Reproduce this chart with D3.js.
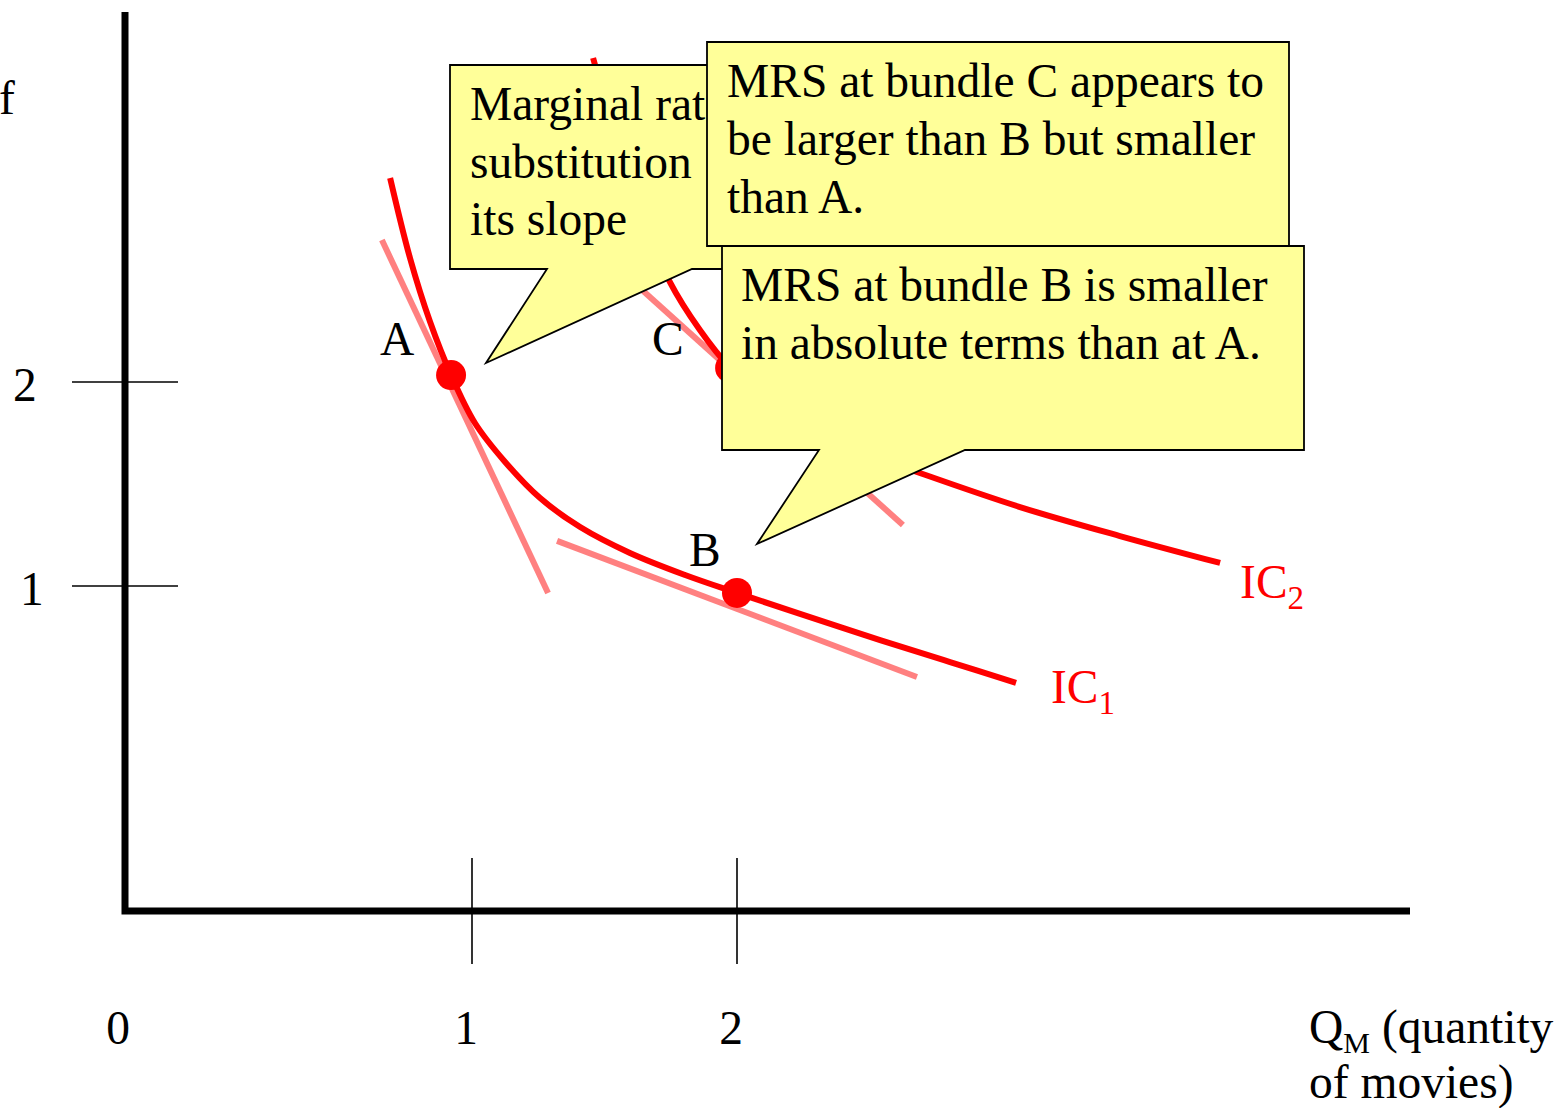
<!DOCTYPE html>
<html>
<head>
<meta charset="utf-8">
<script src="https://cdn.jsdelivr.net/npm/d3@7"></script>
<style>
  body { margin: 0; background: #fff; }
  svg { display: block; }
  text { font-family: "Liberation Serif", "Times New Roman", serif; }
</style>
</head>
<body>
<svg id="chart" width="1561" height="1108"></svg>
<script>
// ---- data -------------------------------------------------------------
const xTicks = [1, 2];
const yTicks = [1, 2];

// indifference curve IC1 (quantity of movies, quantity of the other good)
const ic1 = [
  [0.691, 3.000], [0.766, 2.608], [0.842, 2.294], [0.921, 2.034], [1.011, 1.799],
  [1.125, 1.608], [1.257, 1.431], [1.408, 1.289], [1.596, 1.162], [1.804, 1.054],
  [2.000, 0.966], [2.238, 0.863], [2.540, 0.735], [2.804, 0.627], [3.053, 0.525]
];
// indifference curve IC2
const ic2 = [
  [1.457, 3.588], [1.540, 3.211], [1.634, 2.843], [1.747, 2.490], [1.860, 2.255],
  [1.974, 2.069], [2.125, 1.887], [2.313, 1.740], [2.502, 1.642], [2.679, 1.559],
  [3.068, 1.387], [3.445, 1.245], [3.823, 1.113]
];

// consumption bundles
const bundleNames = ["A", "B", "C"];
const bundleX = [0.921, 2.000, 1.974];
const bundleY = [2.034, 0.966, 2.069];

// tangent segments (slope = MRS) at A, B and C
const tangentNames = ["A", "B", "C"];
const tangentFrom = [[0.660, 2.696], [1.321, 1.221], [1.483, 2.637]];
const tangentTo   = [[1.287, 0.966], [2.679, 0.554], [2.626, 1.299]];

// callout texts
const calloutSlope = ["Marginal rate of", "substitution", "its slope"];
const calloutC = ["MRS at bundle C appears to", "be larger than B but smaller", "than A."];
const calloutB = ["MRS at bundle B is smaller", "in absolute terms than at A."];

// ---- layout -----------------------------------------------------------
const svg = d3.select("#chart");
const origin = { x: 125, y: 911 };
const axisEnd = { x: 1410, y: 12 };

const x = d3.scaleLinear().domain([1, 2]).range([472, 737]);
const y = d3.scaleLinear().domain([1, 2]).range([586, 382]);

const FS = 47.5;
const RED = "#ff0000";
const PINK = "#ff8080";
const NOTE = "#ffff99";

// ---- tick marks & labels ------------------------------------------------
svg.append("g").selectAll("line").data(yTicks).join("line")
  .attr("x1", 72).attr("x2", 178)
  .attr("y1", d => y(d)).attr("y2", d => y(d))
  .attr("stroke", "#000").attr("stroke-width", 1.6);

const yLabelX = { 1: 20, 2: 13 };
svg.append("g").selectAll("text").data(yTicks).join("text")
  .attr("x", d => yLabelX[d]).attr("y", d => y(d) + 19)
  .attr("font-size", FS).text(d => d);

svg.append("g").selectAll("line").data(xTicks).join("line")
  .attr("x1", d => x(d)).attr("x2", d => x(d))
  .attr("y1", 858).attr("y2", 964)
  .attr("stroke", "#000").attr("stroke-width", 1.6);

svg.append("g").selectAll("text").data(xTicks).join("text")
  .attr("x", d => x(d) - 6).attr("y", 1044)
  .attr("text-anchor", "middle")
  .attr("font-size", FS).text(d => d);

svg.append("text").attr("x", 118).attr("y", 1044)
  .attr("text-anchor", "middle").attr("font-size", FS).text("0");

// ---- axes -------------------------------------------------------------
svg.append("path")
  .attr("d", `M${origin.x},${axisEnd.y} V${origin.y} H${axisEnd.x}`)
  .attr("fill", "none").attr("stroke", "#000")
  .attr("stroke-width", 7).attr("stroke-linejoin", "miter");

// axis titles
svg.append("text").attr("x", -1).attr("y", 114).attr("font-size", FS).text("f");

const xTitle = svg.append("text").attr("x", 1309).attr("y", 1043).attr("font-size", FS);
xTitle.append("tspan").text("Q");
xTitle.append("tspan").attr("font-size", 30).attr("dy", 10).text("M");
xTitle.append("tspan").attr("dy", -10).text(" (quantity");
svg.append("text").attr("x", 1309).attr("y", 1098).attr("font-size", FS).text("of movies)");

// ---- tangents (MRS) -----------------------------------------------------
svg.append("g").selectAll("line").data(tangentNames).join("line")
  .attr("x1", (d, i) => x(tangentFrom[i][0])).attr("y1", (d, i) => y(tangentFrom[i][1]))
  .attr("x2", (d, i) => x(tangentTo[i][0])).attr("y2", (d, i) => y(tangentTo[i][1]))
  .attr("stroke", PINK).attr("stroke-width", 6);

// ---- indifference curves ----------------------------------------------
const line = d3.line().x(d => x(d[0])).y(d => y(d[1])).curve(d3.curveCatmullRom.alpha(0.5));
svg.append("g").selectAll("path").data([ic1, ic2]).join("path")
  .attr("d", line).attr("fill", "none")
  .attr("stroke", RED).attr("stroke-width", 6);

// ---- bundles ----------------------------------------------------------
svg.append("g").selectAll("circle").data(bundleNames).join("circle")
  .attr("cx", (d, i) => x(bundleX[i])).attr("cy", (d, i) => y(bundleY[i]))
  .attr("r", 15).attr("fill", RED);

const bundleLabelOffset = { A: [-71, -20], B: [-48, -27], C: [-78, -13] };
svg.append("g").selectAll("text").data(bundleNames).join("text")
  .attr("x", (d, i) => x(bundleX[i]) + bundleLabelOffset[d][0])
  .attr("y", (d, i) => y(bundleY[i]) + bundleLabelOffset[d][1])
  .attr("font-size", FS).text(d => d);

// ---- curve labels -------------------------------------------------------
function curveLabel(px, py, sub) {
  const t = svg.append("text").attr("x", px).attr("y", py)
    .attr("font-size", FS).attr("fill", RED);
  t.append("tspan").text("IC");
  t.append("tspan").attr("font-size", 33).attr("dy", 11).text(sub);
}
const endIc1 = ic1[ic1.length - 1], endIc2 = ic2[ic2.length - 1];
curveLabel(x(endIc1[0]) + 35, y(endIc1[1]) + 20, "1");
curveLabel(x(endIc2[0]) + 20, y(endIc2[1]) + 35, "2");

// ---- callouts -----------------------------------------------------------
function callout(d, lines, tx, ty, lh) {
  const g = svg.append("g");
  g.append("path").attr("d", d).attr("fill", NOTE)
    .attr("stroke", "#000").attr("stroke-width", 1.8).attr("stroke-linejoin", "miter");
  g.selectAll("text").data(lines).join("text")
    .attr("x", tx).attr("y", (l, i) => ty + i * lh)
    .attr("font-size", FS).text(l => l);
}

callout("M450,65 H860 V269 H692 L486,363 L547,269 H450 Z", calloutSlope, 470, 120, 57.5);
callout("M707,42 H1289 V246 H707 Z", calloutC, 727, 97, 58);
callout("M722,246 H1304 V450 H965 L757,544 L819,450 H722 Z", calloutB, 741, 301, 58);
</script>
</body>
</html>
